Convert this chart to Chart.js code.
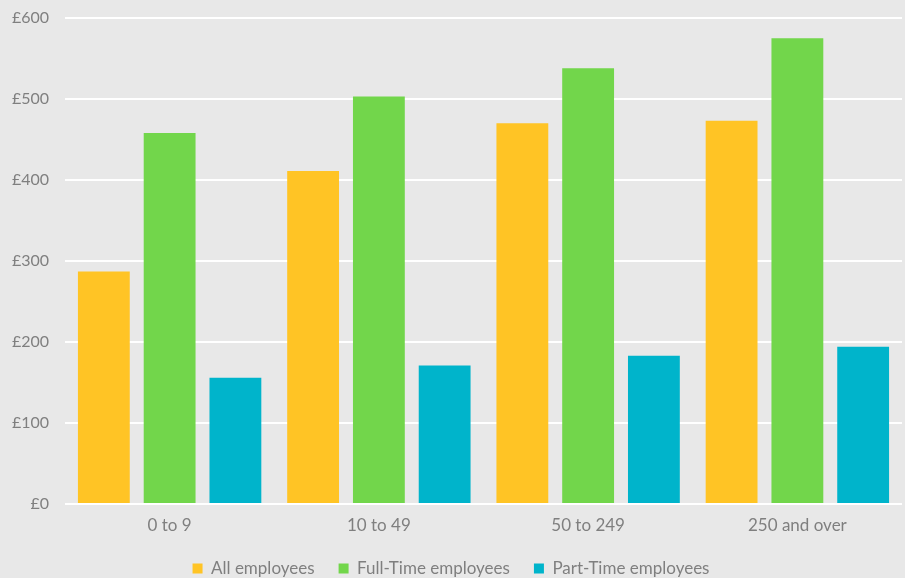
<!DOCTYPE html>
<html>
<head>
<meta charset="utf-8">
<script src="https://cdn.jsdelivr.net/npm/chart.js@4/dist/chart.umd.min.js"></script>
<style>
  html, body { margin: 0; padding: 0; background: #e8e8e8; }
  #wrap { width: 905px; height: 578px; position: relative; }
</style>
</head>
<body>
<div id="wrap"><canvas id="pay"></canvas></div>
<script>
// Weekly pay by business size (number of employees)
const sizeBands  = ['0 to 9', '10 to 49', '50 to 249', '250 and over'];
const allEmp     = [287, 411, 470, 473];
const fullTime   = [458, 503, 538, 575];
const partTime   = [156, 171, 183, 194];

const TEXT = '#7f7f7f';
const FONT = 'Lato, "Open Sans", sans-serif';

const ctx = document.getElementById('pay').getContext('2d');

new Chart(ctx, {
  type: 'bar',
  data: {
    labels: sizeBands,
    datasets: [
      { label: 'All employees',       data: allEmp,   backgroundColor: '#ffc425' },
      { label: 'Full-Time employees', data: fullTime, backgroundColor: '#72d64b' },
      { label: 'Part-Time employees', data: partTime, backgroundColor: '#00b4cb' },
    ],
  },
  options: {
    responsive: true,
    maintainAspectRatio: false,
    animation: false,
    categoryPercentage: 0.943,
    barPercentage: 0.788,
    layout: { padding: { top: 18, right: 3, left: 0, bottom: -9 } },
    plugins: {
      tooltip: { enabled: false },
      legend: {
        position: 'bottom',
        labels: {
          color: TEXT,
          font: { family: FONT, size: 17 },
          boxWidth: 10,
          boxHeight: 10,
          padding: 24,
        },
      },
    },
    scales: {
      x: {
        afterFit: s => { s.height = 32; },
        grid:   { display: false, drawTicks: false },
        border: { display: false },
        ticks:  { color: TEXT, font: { family: FONT, size: 17 }, padding: 11 },
      },
      y: {
        min: 0,
        max: 600,
        afterFit: s => { s.width = 65; s.paddingTop = 0; s.paddingBottom = 0; },
        grid:   { color: '#ffffff', lineWidth: 2, drawTicks: false },
        border: { display: false },
        ticks:  {
          stepSize: 100,
          color: TEXT,
          font: { family: FONT, size: 16 },
          padding: 16,
          callback: v => '£' + v,
        },
      },
    },
  },
});
</script>
</body>
</html>
